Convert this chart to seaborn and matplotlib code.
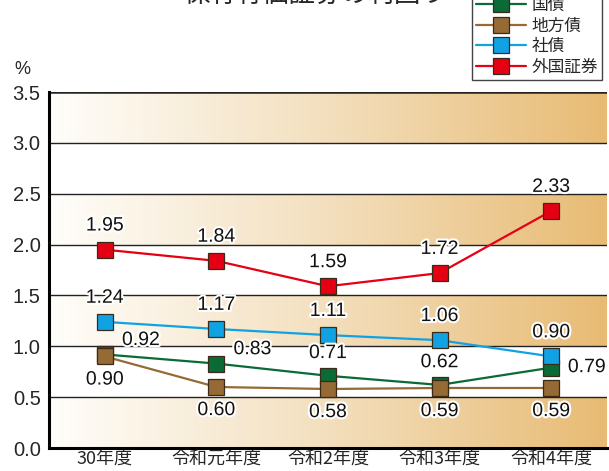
import numpy as np
import pandas as pd
import matplotlib
matplotlib.use("Agg")
import matplotlib.pyplot as plt
import matplotlib.patheffects as pe
from matplotlib.colors import LinearSegmentedColormap
import seaborn as sns

categories = ["30年度", "令和元年度", "令和2年度", "令和3年度", "令和4年度"]
series_names = ["国債", "地方債", "社債", "外国証券"]
kokusai = [0.92, 0.83, 0.71, 0.62, 0.79]
chihosai = [0.90, 0.60, 0.58, 0.59, 0.59]
shasai = [1.24, 1.17, 1.11, 1.06, 0.90]
gaikoku = [1.95, 1.84, 1.59, 1.72, 2.33]
yticks = [0.0, 0.5, 1.0, 1.5, 2.0, 2.5, 3.0, 3.5]
title = "保有有価証券の利回り"

colors = ["#0b6b37", "#956a34", "#10a2e3", "#e60014"]

sns.set_theme(style="white")
plt.rcParams['font.family'] = ['Liberation Sans', 'Noto Sans CJK JP', 'DejaVu Sans']

W, H = 609, 471
fig = plt.figure(figsize=(W / 100, H / 100), dpi=100)
ax = fig.add_axes([49 / W, (H - 448) / H, (607 - 49) / W, (448 - 92) / H])

# background bands with horizontal gradient
cmap = LinearSegmentedColormap.from_list("g", ["#fffefb", "#f3dfbd", "#e8bb74"])
grad = np.linspace(0, 1, 256).reshape(1, -1)
for lo in [0.0, 1.0, 2.0, 3.0]:
    ax.imshow(grad, extent=(-0.5, 4.5, lo, lo + 0.5), aspect="auto", cmap=cmap,
              zorder=0, interpolation="bilinear")

df = pd.DataFrame({
    "cat": categories * 4,
    "x": list(range(5)) * 4,
    "val": kokusai + chihosai + shasai + gaikoku,
    "series": sum([[s] * 5 for s in series_names], []),
})

for i, s in enumerate(series_names):
    sub = df[df.series == s]
    sns.lineplot(data=sub, x="x", y="val", ax=ax, color=colors[i], lw=1.6,
                 marker="s", markersize=11, markeredgecolor="#3a2a1a",
                 markeredgewidth=0.9, label=s, zorder=3 + i, legend=False)

# gridlines
for yv in yticks[1:]:
    ax.axhline(yv, color="#222222", lw=1.0 if yv < 3.5 else 1.8, zorder=1)

ax.set_xlim(-0.5, 4.5)
ax.set_ylim(0, 3.5)
ax.set_yticks(yticks)
ax.set_yticklabels([f"{v:.1f}" for v in yticks], fontsize=14.5)
ax.set_xticks(range(5))
ax.set_xticklabels(categories, fontsize=13, family=['Noto Sans CJK JP'])
ax.set_xticks([0.5, 1.5, 2.5, 3.5, 4.5], minor=True)
ax.tick_params(axis="x", which="major", length=0, pad=1)
ax.tick_params(axis="x", which="minor", direction="in", length=8, width=1.5, color="black")
ax.tick_params(axis="y", length=0, pad=6)
ax.set_xlabel("")
ax.set_ylabel("")
for side in ["top", "right"]:
    ax.spines[side].set_visible(False)
for side in ["left", "bottom"]:
    ax.spines[side].set_color("black")
    ax.spines[side].set_linewidth(2.2)

# value labels
stroke = [pe.withStroke(linewidth=3, foreground="white")]
def lab(x, y, txt, dx, dy, ha="center"):
    ax.annotate(txt, (x, y), xytext=(dx, dy), textcoords="offset points",
                ha=ha, va="center", fontsize=14, color="#111111",
                path_effects=stroke, zorder=10)

for i, v in enumerate(gaikoku):
    lab(i, v, f"{v:.2f}", 0, 17)
for i, v in enumerate(shasai):
    lab(i, v, f"{v:.2f}", 0, 17)
green_off = [(26, 10), (26, 10), (0, 16), (0, 16), (12, 0)]
for i, v in enumerate(kokusai):
    dx, dy = green_off[i]
    lab(i, v, f"{v:.2f}", dx, dy, ha="left" if i == 4 else "center")
for i, v in enumerate(chihosai):
    lab(i, v, f"{v:.2f}", 0, -17)

fig.text(22 / W, 1 - 70 / H, "%", ha="center", va="center", fontsize=13)
fig.text(315 / W, 1 + 6 / H, title, ha="center", va="center", fontsize=19,
         family=['Noto Sans CJK JP'])

handles, labels = ax.get_legend_handles_labels()
leg = fig.legend(handles, labels, loc="lower right",
                 bbox_to_anchor=(602 / W, (H - 80) / H), borderaxespad=0,
                 labelspacing=0.22, handlelength=3.0,
                 handletextpad=0.3, borderpad=0.25, fancybox=False,
                 framealpha=1, edgecolor="#444444",
                 prop={'family': ['Noto Sans CJK JP'], 'size': 12})
leg.get_frame().set_linewidth(1.0)

fig.savefig("out.png", dpi=100)
